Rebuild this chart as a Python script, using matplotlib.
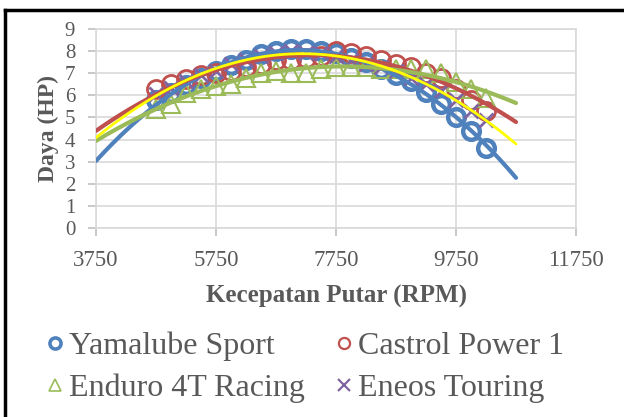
import numpy as np
import matplotlib
matplotlib.use("Agg")
import matplotlib.pyplot as plt
from matplotlib.lines import Line2D

FONT = ['Liberation Serif', 'DejaVu Serif']
plt.rcParams['font.family'] = FONT

rpm = [4750, 5000, 5250, 5500, 5750, 6000, 6250, 6500, 6750, 7000, 7250, 7500,
       7750, 8000, 8250, 8500, 8750, 9000, 9250, 9500, 9750, 10000, 10250]

yamalube = [5.8, 6.1, 6.45, 6.8, 7.1, 7.35, 7.6, 7.85, 8.0, 8.1, 8.1, 8.0,
            7.9, 7.7, 7.5, 7.2, 6.9, 6.65, 6.15, 5.6, 5.0, 4.4, 3.6]
castrol = [6.3, 6.5, 6.75, 6.9, 7.0, 7.1, 7.3, 7.4, 7.6, 7.6, 7.7, 7.8,
           8.0, 7.9, 7.8, 7.6, 7.4, 7.3, 7.0, 6.8, 6.3, 5.8, 5.3]
enduro = [5.4, 5.6, 6.1, 6.3, 6.4, 6.5, 6.8, 7.0, 7.1, 7.0, 7.0, 7.2,
          7.3, 7.3, 7.3, 7.2, 7.2, 7.2, 7.2, 7.0, 6.6, 6.3, 5.9]
eneos = [6.05, 6.35, 6.65, 6.9, 7.1, 7.4, 7.6, 7.8, 7.9, 8.0, 7.9, 7.9,
         7.8, 7.6, 7.4, 7.3, 7.1, 6.8, 6.5, 6.2, 5.8, 5.3, 4.9]

names = ["Yamalube Sport", "Castrol Power 1", "Enduro 4T Racing", "Eneos Touring"]
colors = ["#4F81BD", "#C0504D", "#9BBB59", "#8064A2"]
trend_colors = ["#4F81BD", "#C0504D", "#9BBB59", "#FFFF00"]
grey = '#595959'

W, H = 624, 417
fig = plt.figure(figsize=(W / 100, H / 100), dpi=100)
ax = fig.add_axes([96 / W, 1 - 228 / H, 480 / W, 199 / H])

series = [yamalube, castrol, enduro, eneos]
styles = [dict(marker='o', ms=12, mew=3.2, mfc='none'),
          dict(marker='o', ms=13, mew=2.0, mfc='none'),
          dict(marker='^', ms=13, mew=1.5, mfc='none'),
          dict(marker='x', ms=10, mew=2.0)]
for vals, c, st in zip(series, colors, styles):
    ax.plot(rpm, vals, ls='none', color=c, mec=c, zorder=3, **st)

# polynomial (order 2) trendlines, extended to 10750
xs = np.linspace(3750, 10750, 200)
for vals, c in zip(series, trend_colors):
    p = np.polyfit(rpm, vals, 2)
    lw = 2.0 if c == "#FFFF00" else 3.0
    ax.plot(xs, np.polyval(p, xs), color=c, lw=lw, zorder=4, solid_capstyle='round')

ax.set_xlim(3750, 11750)
ax.set_ylim(0, 9)
ax.set_xticks([3750, 5750, 7750, 9750, 11750])
ax.set_yticks(range(10))
ax.grid(True, color='#D9D9D9', lw=1.2)
ax.set_axisbelow(True)
for s in ax.spines.values():
    s.set_color('#D9D9D9')
    s.set_linewidth(1.2)
ax.tick_params(colors='#BFBFBF', labelcolor=grey, length=6, width=1.2)
ax.tick_params(axis='x', labelsize=16.5, pad=10)
ax.tick_params(axis='y', labelsize=15, pad=9)
ax.set_xlabel("Kecepatan Putar (RPM)", fontsize=18, fontweight='bold', color=grey, labelpad=10)
ax.set_ylabel("Daya (HP)", fontsize=17, fontweight='bold', color=grey, labelpad=4)

# legend, laid out by hand in two rows
leg_pos = [(55, 343), (344, 343), (55, 385), (344, 385)]
for (px, py), name, c, st in zip(leg_pos, names, colors, styles):
    mst = dict(st, ms=8, mew=st['mew'] * 0.8)
    fig.add_artist(Line2D([px / W], [1 - py / H], ls='none', color=c, mec=c, **mst))
    fig.text((px + 14) / W, 1 - py / H, name, fontsize=23, color=grey,
             family=FONT, va='center_baseline')

fig.add_artist(Line2D([5 / W, 5 / W], [0, 1 - 10 / H], color='black', lw=2.5))
fig.add_artist(Line2D([5 / W, 1], [1 - 10 / H, 1 - 10 / H], color='black', lw=2.5))

fig.savefig("out.png", dpi=100)
